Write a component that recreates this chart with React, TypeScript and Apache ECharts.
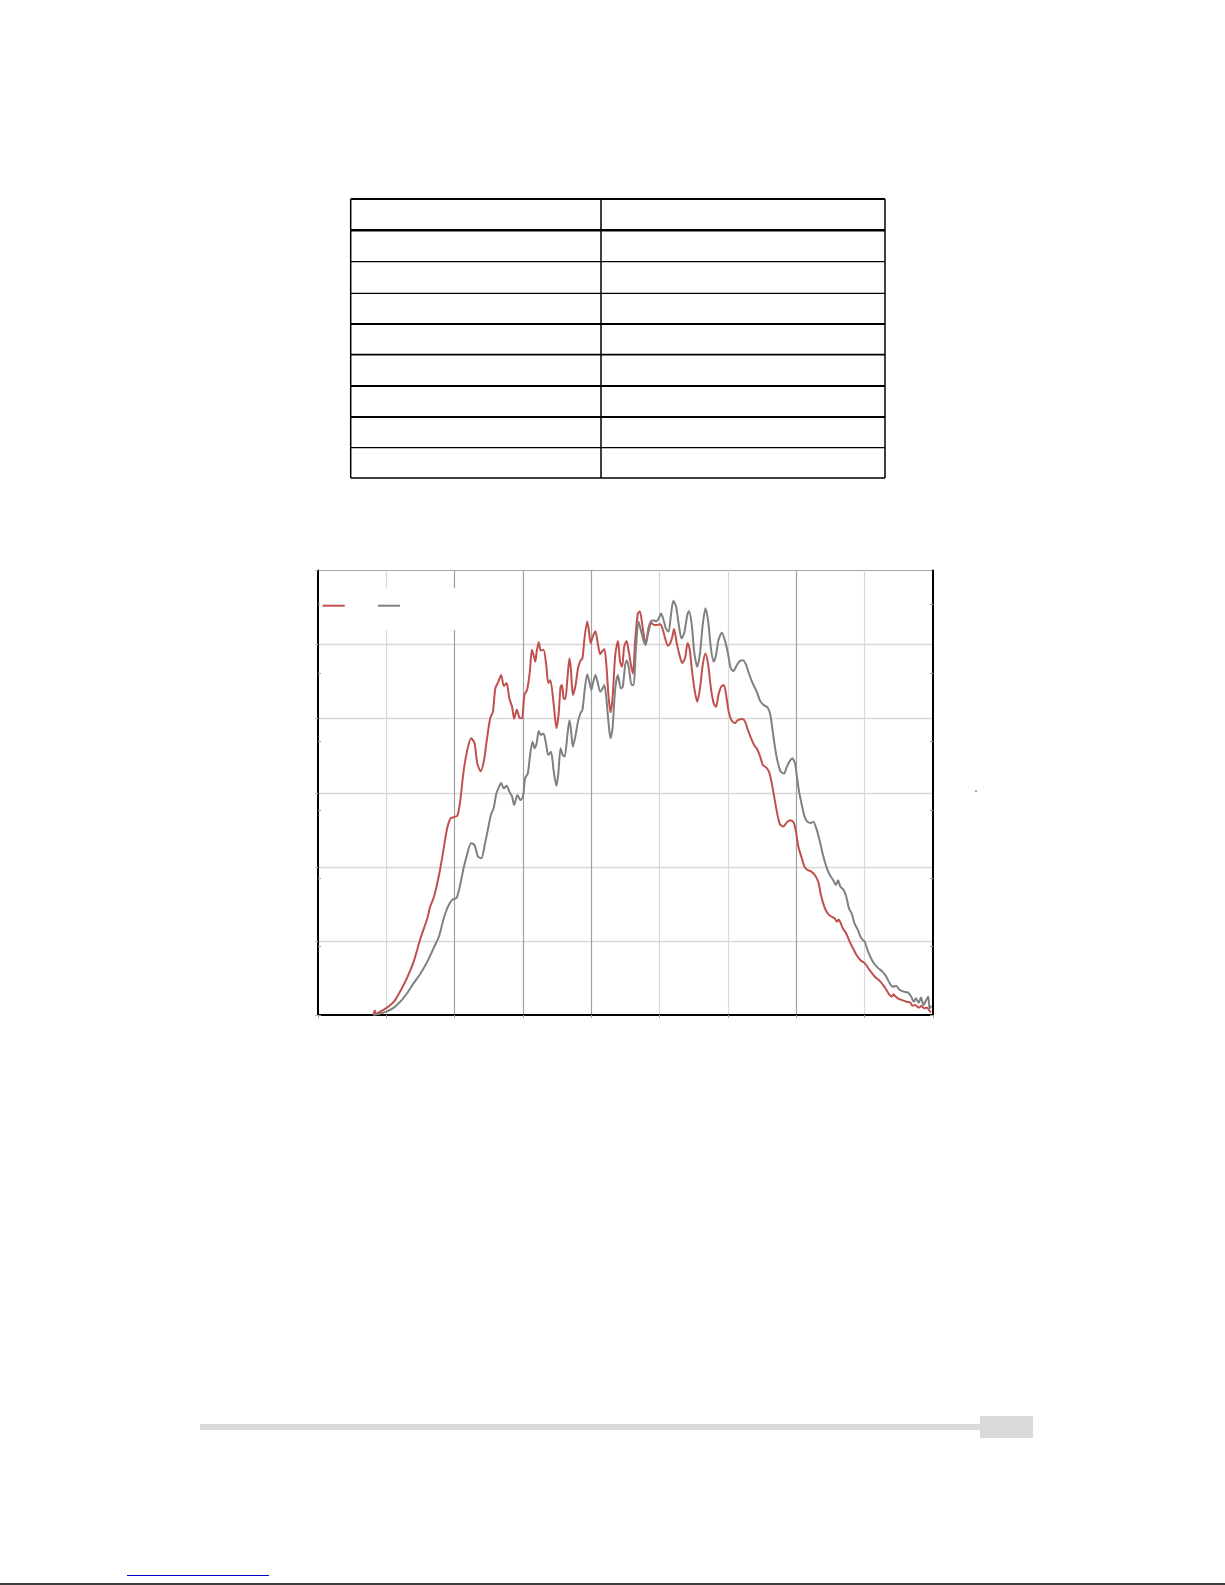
import React, { useEffect, useRef } from "react";
import * as echarts from "echarts";

// Two measured profiles, [x, y] pairs on the left axis scale (x 0–90, y 0–60)
const redProfile: [number, number][] = [
  [8.1, 0], [8.3, 0.6], [8.5, 0.2], [9.1, 0.45], [10.1, 1.0], [11.1, 1.8], [12.0, 3.15], [13.0, 4.95],
  [14.0, 7.2], [15.0, 10.35], [16.0, 13.05], [16.4, 14.6], [16.9, 15.75], [17.4, 17.55], [17.9, 19.8],
  [18.4, 22.5], [18.9, 25.2], [19.4, 26.55], [19.85, 26.7], [20.4, 26.9], [20.8, 28.8], [21.3, 32.85],
  [21.8, 35.55], [22.4, 37.35], [22.9, 36.7], [23.3, 34.0], [23.8, 32.9], [24.3, 34.4], [24.7, 37.1],
  [25.2, 40.05], [25.6, 40.95], [25.95, 44.1], [26.4, 45.0], [26.8, 45.9], [27.2, 44.4], [27.6, 44.8],
  [28.0, 42.75], [28.4, 41.6], [28.7, 40.0], [29.1, 41.2], [29.5, 40.1], [29.85, 40.05], [30.2, 43.2],
  [30.6, 43.9], [31.0, 46.35], [31.3, 49.3], [31.6, 48.4], [31.8, 47.7], [32.0, 49.05], [32.3, 50.3],
  [32.6, 49.2], [33.0, 49.3], [33.4, 47.25], [33.7, 44.8], [34.0, 45.2], [34.5, 41.85], [34.9, 38.7],
  [35.2, 40.5], [35.5, 44.3], [35.7, 44.55], [35.95, 42.75], [36.2, 42.65], [36.5, 45.45], [36.8, 48.15],
  [37.0, 46.8], [37.3, 43.2], [37.7, 44.55], [38.05, 46.8], [38.4, 47.8], [38.7, 48.15], [39.0, 50.85],
  [39.4, 53.1], [39.6, 52.2], [39.9, 50.2], [40.2, 51.05], [40.6, 51.8], [40.9, 50.4], [41.3, 48.7],
  [41.55, 49.05], [41.9, 49.4], [42.2, 47.25], [42.5, 43.2], [42.8, 40.85], [43.1, 42.75], [43.5, 48.6],
  [43.9, 50.5], [44.2, 47.7], [44.5, 47.0], [44.8, 49.7], [45.15, 50.5], [45.4, 49.5], [45.8, 47.25],
  [46.1, 46.1], [46.4, 50.4], [46.8, 54.2], [47.1, 54.45], [47.4, 53.1], [47.7, 51.1], [47.96, 50.2],
  [48.35, 51.75], [48.8, 52.9], [49.2, 52.65], [49.6, 52.65], [50.1, 52.75], [50.4, 52.2], [50.8, 50.85],
  [51.2, 49.85], [51.55, 50.2], [51.85, 51.05], [52.1, 52.1], [52.5, 50.2], [52.9, 48.6], [53.3, 47.5],
  [53.7, 48.15], [54.1, 50.2], [54.4, 49.3], [54.75, 46.35], [55.15, 43.65], [55.5, 42.3], [55.9, 44.1],
  [56.3, 47.25], [56.7, 48.8], [57.1, 47.25], [57.5, 44.1], [57.9, 42.1], [58.25, 41.6], [58.6, 43.2],
  [59.0, 44.3], [59.4, 44.55], [59.8, 42.75], [60.1, 40.95], [60.5, 39.8], [61.0, 39.4], [61.45, 39.8],
  [62.1, 39.95], [62.5, 39.6], [62.9, 38.5], [63.4, 37.3], [63.9, 36.3], [64.2, 36.0], [64.7, 34.9],
  [65.1, 33.75], [65.6, 33.4], [66.0, 32.85], [66.4, 31.3], [66.8, 29.25], [67.2, 27.2], [67.6, 25.75],
  [68.1, 25.45], [68.6, 26.0], [69.1, 26.3], [69.6, 26.0], [69.95, 24.75], [70.3, 22.7], [70.8, 21.15],
  [71.2, 20.0], [71.6, 19.6], [72.2, 19.35], [72.7, 18.9], [73.2, 18.0], [73.6, 16.2], [74.1, 14.6],
  [74.6, 13.7], [75.1, 13.3], [75.6, 13.05], [75.97, 12.6], [76.2, 12.9], [76.4, 12.6], [76.8, 11.7],
  [77.3, 11.0], [77.8, 9.9], [78.3, 9.0], [78.8, 8.1], [79.4, 7.4], [80.0, 7.0], [80.7, 6.1],
  [81.45, 5.2], [82.2, 4.6], [82.9, 3.8], [83.5, 2.9], [84.0, 2.5], [84.2, 2.8], [84.4, 2.6],
  [84.85, 2.25], [85.5, 2.0], [86.1, 1.8], [86.65, 1.7], [87.0, 1.25], [87.4, 1.35], [87.9, 1.0],
  [88.3, 1.2], [88.7, 0.9], [89.1, 1.0], [89.5, 0.55], [89.7, 0.35],
];

const grayProfile: [number, number][] = [
  [8.1, 0], [9.1, 0.2], [10.1, 0.5], [11.1, 1.0], [12.05, 1.8], [13.0, 2.9], [14.0, 4.3], [15.0, 5.6],
  [16.0, 7.2], [16.9, 9.0], [17.7, 10.6], [18.4, 13.05], [19.0, 14.6], [19.6, 15.5], [20.3, 15.85],
  [20.8, 17.55], [21.3, 19.8], [21.8, 21.6], [22.4, 23.2], [22.9, 22.95], [23.4, 21.4], [23.9, 21.15],
  [24.4, 22.95], [24.8, 24.75], [25.3, 27.0], [25.7, 27.9], [26.1, 29.9], [26.4, 30.6], [26.8, 31.3],
  [27.2, 30.6], [27.6, 30.95], [28.0, 30.15], [28.4, 29.5], [28.7, 28.35], [29.2, 29.7], [29.6, 29.0],
  [30.0, 29.5], [30.3, 31.95], [30.7, 32.6], [31.1, 35.55], [31.4, 36.9], [31.7, 36.0], [32.0, 36.7],
  [32.3, 38.35], [32.6, 37.8], [33.0, 38.0], [33.4, 36.45], [33.7, 35.1], [34.1, 35.55], [34.5, 32.85],
  [34.9, 30.95], [35.15, 32.4], [35.5, 36.0], [35.8, 35.1], [36.1, 34.9], [36.5, 37.8], [36.8, 39.8],
  [37.0, 38.7], [37.3, 36.2], [37.7, 37.8], [38.05, 39.6], [38.4, 40.7], [38.7, 41.2], [39.0, 43.65],
  [39.4, 46.0], [39.7, 45.0], [40.0, 43.9], [40.3, 45.0], [40.6, 45.9], [40.9, 45.0], [41.3, 43.65],
  [41.55, 43.9], [41.9, 44.55], [42.2, 42.75], [42.5, 39.6], [42.8, 37.35], [43.1, 38.7], [43.5, 44.1],
  [43.9, 45.9], [44.3, 44.1], [44.6, 44.3], [44.95, 47.25], [45.2, 47.9], [45.5, 46.8], [45.9, 44.55],
  [46.2, 44.55], [46.5, 49.05], [46.9, 53.1], [47.3, 51.75], [47.7, 50.4], [47.96, 49.95], [48.35, 52.2],
  [48.7, 53.1], [49.1, 53.3], [49.5, 53.1], [49.9, 53.6], [50.2, 54.2], [50.5, 53.55], [50.9, 52.2],
  [51.3, 51.75], [51.65, 54.0], [52.0, 55.9], [52.4, 55.15], [52.8, 52.65], [53.2, 50.85], [53.6, 51.55],
  [54.0, 53.8], [54.3, 54.55], [54.7, 52.65], [55.05, 49.05], [55.5, 47.0], [55.9, 48.8], [56.3, 52.65],
  [56.7, 54.9], [57.1, 53.1], [57.5, 49.5], [57.9, 47.7], [58.25, 48.6], [58.6, 50.6], [59.1, 51.6],
  [59.6, 50.4], [60.0, 48.8], [60.4, 46.8], [60.8, 46.45], [61.3, 47.25], [61.75, 47.8], [62.2, 47.9],
  [62.6, 47.35], [63.1, 46.0], [63.6, 44.8], [64.2, 43.65], [64.7, 42.4], [65.2, 41.85], [65.8, 41.5],
  [66.2, 40.5], [66.55, 38.25], [66.9, 36.0], [67.2, 34.45], [67.7, 32.85], [68.2, 32.6], [68.6, 33.5],
  [69.0, 34.2], [69.4, 34.65], [69.8, 34.0], [70.05, 32.4], [70.4, 30.15], [70.8, 28.35], [71.2, 26.8],
  [71.6, 26.1], [72.1, 25.9], [72.5, 26.1], [73.0, 24.95], [73.45, 23.4], [73.9, 21.6], [74.4, 20.0],
  [74.9, 18.9], [75.4, 18.2], [75.8, 17.55], [76.1, 18.2], [76.45, 17.3], [76.9, 16.9], [77.3, 16.0],
  [77.7, 14.4], [78.1, 13.7], [78.5, 12.4], [79.0, 11.5], [79.5, 10.35], [80.0, 9.9], [80.5, 8.55],
  [81.2, 7.2], [81.9, 6.4], [82.6, 5.85], [83.15, 5.2], [83.65, 4.3], [84.1, 3.8], [84.6, 3.95],
  [85.1, 3.4], [85.7, 3.15], [86.3, 3.05], [86.8, 2.5], [87.2, 1.8], [87.5, 2.25], [87.9, 1.65],
  [88.25, 2.35], [88.6, 1.35], [89.0, 2.0], [89.3, 2.5], [89.5, 0.9], [89.8, 1.25],
];

const seriesNames = ["Series 1", "Series 2"];
const seriesColors = ["#c0504d", "#808080"];

// Axis scales
const xRange = [0, 90];
const xStep = 10;
const leftRange = [0, 60];
const leftStep = 10;
const rightRange = [0, 6.5];
const rightTicks = [0, 1, 2, 3, 4, 5, 6];

// Ruled table: horizontal rule positions and weights, column rules
const tableRuleY = [199, 230.3, 261.7, 293.3, 324, 354.7, 386, 417, 447.7, 478];
const tableRuleW = [2, 2.6, 1.3, 1.3, 1.8, 1.8, 1.8, 1.8, 1.3, 1.3];
const tableColX = [350.7, 601, 885];

const LIGHT = "#d9d9d9";
const DARK = "#a0a0a0";

export default function App() {
  const ref = useRef<HTMLDivElement>(null);

  useEffect(() => {
    if (!ref.current) return;
    const chart = echarts.init(ref.current, undefined, { renderer: "svg" });

    const tableLines: any[] = [];
    tableRuleY.forEach((y, i) => {
      tableLines.push({
        type: "line",
        shape: { x1: tableColX[0], y1: y, x2: tableColX[tableColX.length - 1], y2: y },
        style: { stroke: "#000", lineWidth: tableRuleW[i] },
      });
    });
    tableColX.forEach((x) => {
      tableLines.push({
        type: "line",
        shape: { x1: x, y1: tableRuleY[0], x2: x, y2: tableRuleY[tableRuleY.length - 1] },
        style: { stroke: "#000", lineWidth: 1.5 },
      });
    });

    const legendBase = {
      icon: "rect",
      itemWidth: 22,
      itemHeight: 2,
      padding: 0,
      top: 604.7,
      selectedMode: false,
      formatter: () => "",
      textStyle: { fontSize: 2, lineHeight: 2 },
    };

    chart.setOption({
      animation: false,
      backgroundColor: "#ffffff",
      grid: {
        left: 318,
        top: 570.5,
        width: 615,
        height: 444.5,
        show: true,
        borderColor: "#a6a6a6",
        borderWidth: 1,
        backgroundColor: "transparent",
        containLabel: false,
      },
      legend: [
        { ...legendBase, data: [seriesNames[0]], left: 322.7 },
        { ...legendBase, data: [seriesNames[1]], left: 378 },
      ],
      xAxis: {
        type: "value",
        min: xRange[0],
        max: xRange[1],
        interval: xStep,
        axisLine: { show: true, onZero: false, lineStyle: { color: "#000", width: 2 } },
        axisTick: { show: true, length: 3, lineStyle: { color: "#a6a6a6" } },
        axisLabel: { show: false },
        splitLine: {
          show: true,
          showMinLine: false,
          showMaxLine: false,
          lineStyle: { color: [LIGHT, DARK, DARK, DARK, LIGHT, LIGHT, DARK, LIGHT], width: 1.2 },
        },
      },
      yAxis: [
        {
          type: "value",
          position: "left",
          min: leftRange[0],
          max: leftRange[1],
          interval: leftStep,
          axisLine: { show: true, onZero: false, lineStyle: { color: "#000", width: 2 } },
          axisTick: { show: true, length: 3, lineStyle: { color: "#bfbfbf" } },
          axisLabel: { show: false },
          splitLine: {
            show: true,
            showMinLine: false,
            showMaxLine: false,
            lineStyle: { color: LIGHT, width: 1.4 },
          },
        },
        {
          type: "value",
          position: "right",
          min: rightRange[0],
          max: rightRange[1],
          interval: 1,
          axisLine: { show: true, onZero: false, lineStyle: { color: "#000", width: 2 } },
          axisTick: { show: true, inside: true, length: 3, customValues: rightTicks, lineStyle: { color: "#999" } },
          axisLabel: { show: false },
          splitLine: { show: false },
        },
        {
          type: "value",
          position: "right",
          min: rightRange[0],
          max: rightRange[1],
          interval: 1,
          axisLine: { show: false },
          axisTick: { show: true, inside: false, length: 3, customValues: rightTicks, lineStyle: { color: "#999" } },
          axisLabel: { show: false },
          splitLine: { show: false },
        },
      ],
      series: [
        {
          name: seriesNames[0],
          type: "line",
          data: redProfile,
          showSymbol: false,
          smooth: 0.25,
          lineStyle: { color: seriesColors[0], width: 2 },
          itemStyle: { color: seriesColors[0] },
          z: 3,
        },
        {
          name: seriesNames[1],
          type: "line",
          data: grayProfile,
          showSymbol: false,
          smooth: 0.25,
          lineStyle: { color: seriesColors[1], width: 2 },
          itemStyle: { color: seriesColors[1] },
          z: 3,
        },
      ],
      graphic: [
        // White panel behind the legend keys
        { type: "rect", z: 1, shape: { x: 320, y: 588, width: 150, height: 42 }, style: { fill: "#ffffff" } },
        // Table rules
        ...tableLines,
        // Footer rule and page tab
        { type: "rect", shape: { x: 200, y: 1424, width: 780, height: 6 }, style: { fill: LIGHT } },
        { type: "rect", shape: { x: 980, y: 1416, width: 53, height: 22 }, style: { fill: LIGHT } },
        // Link underline and page edge
        { type: "line", shape: { x1: 127, y1: 1575.5, x2: 269, y2: 1575.5 }, style: { stroke: "#0000cc", lineWidth: 1 } },
        { type: "line", shape: { x1: 0, y1: 1584, x2: 1225, y2: 1584 }, style: { stroke: "#000", lineWidth: 1.5 } },
        // Small stray mark beside the right axis
        { type: "rect", shape: { x: 975, y: 790.5, width: 2, height: 1 }, style: { fill: "#555" } },
      ],
    });

    return () => chart.dispose();
  }, []);

  return (
    <div
      ref={ref}
      style={{ position: "absolute", left: 0, top: 0, width: 1225, height: 1585 }}
    />
  );
}
